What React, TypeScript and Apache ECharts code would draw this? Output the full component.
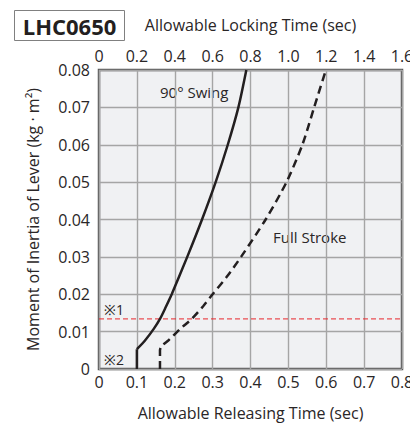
import React, { useEffect, useRef } from "react";
import * as echarts from "echarts";

const releaseTicks = [0, 0.1, 0.2, 0.3, 0.4, 0.5, 0.6, 0.7, 0.8];
const lockTicks = [0, 0.2, 0.4, 0.6, 0.8, 1.0, 1.2, 1.4, 1.6];
const inertiaTicks = [0, 0.01, 0.02, 0.03, 0.04, 0.05, 0.06, 0.07, 0.08];

// 90° Swing: [releasing time (sec), moment of inertia (kg·m²)]
const swingX = [0.1, 0.1, 0.122, 0.145, 0.161, 0.176, 0.192, 0.233, 0.272, 0.308, 0.34, 0.368, 0.389];
const swingY = [0, 0.0053, 0.0077, 0.0108, 0.0134, 0.0165, 0.02, 0.03, 0.04, 0.05, 0.06, 0.07, 0.08];

// Full Stroke
const strokeX = [0.161, 0.161, 0.166, 0.185, 0.215, 0.245, 0.275, 0.3, 0.34, 0.375, 0.44, 0.495, 0.537, 0.568, 0.599];
const strokeY = [0, 0.005, 0.0062, 0.0078, 0.0108, 0.0134, 0.0168, 0.02, 0.025, 0.03, 0.04, 0.05, 0.06, 0.07, 0.08];

const limitInertia = 0.0134;

const FONT = "Open Sans";
const TXT = "#2a2627";

function fmt1(v: number) {
  return v === 0 ? "0" : v.toFixed(1);
}
function fmt2(v: number) {
  return v === 0 ? "0" : v.toFixed(2);
}

export default function App() {
  const ref = useRef<HTMLDivElement>(null);
  useEffect(() => {
    if (!ref.current) return;
    const chart = echarts.init(ref.current, undefined, { renderer: "svg" });
    const swing = swingX.map((x, i) => [x, swingY[i]]);
    const stroke = strokeX.map((x, i) => [x, strokeY[i]]);
    const lineColor = "#231f20";
    chart.setOption({
      animation: false,
      textStyle: { fontFamily: FONT },
      grid: {
        left: 99,
        top: 70,
        width: 303,
        height: 301,
        show: true,
        backgroundColor: "#f0f1f3",
        borderColor: "#5a5a5a",
        borderWidth: 2.5,
        containLabel: false,
      },
      xAxis: [
        {
          type: "value",
          position: "bottom",
          min: releaseTicks[0],
          max: releaseTicks[releaseTicks.length - 1],
          interval: 0.1,
          axisLine: { show: false },
          axisTick: { show: false },
          splitLine: { show: true, lineStyle: { color: "#a5a5a5", width: 1.4 } },
          axisLabel: {
            formatter: fmt1,
            fontSize: 16,
            color: TXT,
            margin: 5,
            fontFamily: FONT,
            alignMinLabel: "center",
            alignMaxLabel: "center",
          },
          name: "Allowable Releasing Time (sec)",
          nameLocation: "middle",
          nameGap: 36,
          nameTextStyle: { fontSize: 16, color: TXT, fontFamily: FONT },
        },
        {
          type: "value",
          position: "top",
          min: lockTicks[0],
          max: lockTicks[lockTicks.length - 1],
          interval: 0.2,
          axisLine: { show: false },
          axisTick: { show: false },
          splitLine: { show: false },
          axisLabel: {
            formatter: fmt1,
            fontSize: 16,
            color: TXT,
            margin: 6,
            fontFamily: FONT,
            alignMinLabel: "center",
            alignMaxLabel: "center",
          },
          name: "Allowable Locking Time (sec)",
          nameLocation: "middle",
          nameGap: 37,
          nameTextStyle: { fontSize: 16, color: TXT, fontFamily: FONT },
        },
      ],
      yAxis: {
        type: "value",
        min: inertiaTicks[0],
        max: inertiaTicks[inertiaTicks.length - 1],
        interval: 0.01,
        axisLine: { show: false },
        axisTick: { show: false },
        splitLine: { show: true, lineStyle: { color: "#a5a5a5", width: 1.4 } },
        axisLabel: { formatter: fmt2, fontSize: 16, color: TXT, margin: 9, fontFamily: FONT },
        name: "Moment of Inertia of Lever (kg · m²)",
        nameLocation: "middle",
        nameGap: 58,
        nameRotate: 90,
        nameTextStyle: { fontSize: 16, color: TXT, fontFamily: FONT },
      },
      series: [
        {
          type: "line",
          xAxisIndex: 0,
          data: [
            [releaseTicks[0], limitInertia],
            [releaseTicks[releaseTicks.length - 1], limitInertia],
          ],
          symbol: "none",
          lineStyle: { color: "#e8262b", width: 1, type: [5, 3] },
          z: 3,
        },
        {
          type: "line",
          xAxisIndex: 0,
          data: swing.slice(0, 2),
          symbol: "none",
          lineStyle: { color: lineColor, width: 2.5 },
          z: 4,
        },
        {
          type: "line",
          xAxisIndex: 0,
          data: swing.slice(1),
          symbol: "none",
          smooth: 0.25,
          lineStyle: { color: lineColor, width: 2.5 },
          z: 4,
        },
        {
          type: "line",
          xAxisIndex: 0,
          data: stroke,
          symbol: "none",
          smooth: 0.25,
          lineStyle: { color: lineColor, width: 2.5, type: [8, 5] },
          z: 4,
        },
      ],
      graphic: [
        {
          type: "rect",
          shape: { x: 14.5, y: 10.5, width: 110, height: 30 },
          style: { fill: "#fff", stroke: "#808080", lineWidth: 1 },
        },
        {
          type: "text",
          x: 69.5,
          y: 26,
          style: {
            text: "LHC0650",
            font: `bold 22px "${FONT}"`,
            fill: "#231f20",
            textAlign: "center",
            textVerticalAlign: "middle",
          },
        },
        {
          type: "text",
          x: 160,
          y: 92,
          style: { text: "90° Swing", font: `15px "${FONT}"`, fill: TXT, textVerticalAlign: "middle" },
        },
        {
          type: "text",
          x: 273,
          y: 237,
          style: { text: "Full Stroke", font: `15px "${FONT}"`, fill: TXT, textVerticalAlign: "middle" },
        },
        {
          type: "text",
          x: 104,
          y: 309,
          style: { text: "※1", font: `14px "${FONT}"`, fill: TXT, textVerticalAlign: "middle" },
        },
        {
          type: "text",
          x: 104,
          y: 359,
          style: { text: "※2", font: `14px "${FONT}"`, fill: TXT, textVerticalAlign: "middle" },
        },
      ],
    });
    return () => chart.dispose();
  }, []);
  return (
    <div style={{ position: "fixed", left: 0, top: 0, width: 410, height: 426, overflow: "hidden", background: "#fff" }}>
      <div ref={ref} style={{ width: 430, height: 426 }} />
    </div>
  );
}
